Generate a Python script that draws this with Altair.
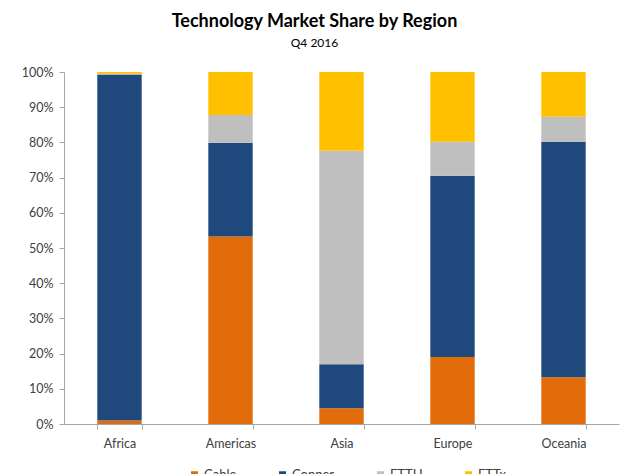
import altair as alt
import pandas as pd

regions = ["Africa", "Americas", "Asia", "Europe", "Oceania"]
techs = ["Cable", "Copper", "FTTH", "FTTx"]
cable = [1.0, 53.3, 4.5, 19.0, 13.3]
copper = [98.3, 26.6, 12.5, 51.5, 66.9]
ftth = [0.2, 7.9, 60.6, 9.7, 7.1]
fttx = [0.5, 12.2, 22.4, 19.8, 12.7]
colors = ["#E36C0A", "#1F497D", "#BFBFBF", "#FFC000"]

rows = []
for i, r in enumerate(regions):
    for k, (t, vals) in enumerate(zip(techs, [cable, copper, ftth, fttx])):
        rows.append({"Region": r, "Tech": t, "Share": vals[i] / 100.0, "ord": k})
df = pd.DataFrame(rows)

FONT = "Lato"

chart = alt.Chart(df).mark_bar().encode(
    x=alt.X("Region:N", sort=regions, title=None,
            scale=alt.Scale(paddingInner=0.6, paddingOuter=0.3),
            axis=alt.Axis(labelAngle=0, tickBand="extent", tickSize=5,
                          labelPadding=8, domainColor="#A6A6A6", tickColor="#A6A6A6",
                          labelColor="#404040", labelFontSize=12.5, labelFont=FONT)),
    y=alt.Y("Share:Q", stack="zero", title=None,
            scale=alt.Scale(domain=[0, 1]),
            axis=alt.Axis(format=".0%", values=[i / 10 for i in range(11)], grid=False,
                          tickSize=5, labelPadding=6, domainColor="#A6A6A6",
                          tickColor="#A6A6A6", labelColor="#404040",
                          labelFontSize=12.5, labelFont=FONT)),
    color=alt.Color("Tech:N", sort=techs,
                    scale=alt.Scale(domain=techs, range=colors),
                    legend=alt.Legend(title=None, orient="none", direction="horizontal",
                                      legendX=124, legendY=396, symbolType="square",
                                      symbolSize=49, symbolStrokeWidth=0, labelOffset=3,
                                      columnPadding=39, padding=0, labelFontSize=13,
                                      labelColor="#404040", labelFont=FONT)),
    order=alt.Order("ord:Q", sort="ascending"),
).properties(
    width=555,
    height=352,
    padding={"left": 64, "top": 72, "right": 1, "bottom": 50},
    autosize=alt.AutoSizeParams(type="none"),
    title=alt.TitleParams(
        text="Technology Market Share by Region",
        subtitle="Q4 2016",
        anchor="middle",
        dx=-27,
        offset=17,
        font=FONT, fontSize=18, fontWeight="bold", color="#000000",
        subtitleFont=FONT, subtitleFontSize=12, subtitleColor="#000000",
        subtitlePadding=7,
    ),
).configure_view(stroke=None)

chart.save("out.html", embed_options={"renderer": "svg", "actions": False})
